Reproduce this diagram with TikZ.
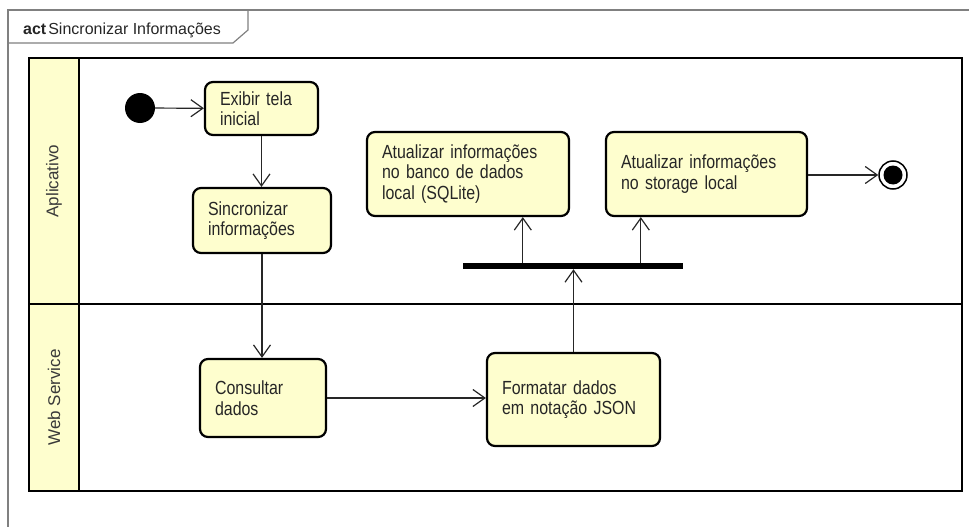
\documentclass[tikz,border=0pt]{standalone}
\usepackage{fontspec}
\setmainfont{Liberation Sans}
\newfontfamily\actionfont[FakeStretch=0.84]{Liberation Sans}
\usetikzlibrary{arrows.meta,calc}
\definecolor{actfill}{HTML}{FEFECE}
\definecolor{ink}{HTML}{262626}
\definecolor{lanetext}{HTML}{3A3A3A}
\definecolor{framegray}{HTML}{808080}

\begin{document}
\begin{tikzpicture}[x=1pt,y=-1pt,
  every node/.style={font=\fontsize{16}{21}\selectfont, text=ink},
  activity/.style={draw=black, line width=2.2pt, fill=actfill, rounded corners=8pt,
    inner xsep=15pt, inner ysep=0pt, align=left,
    font=\actionfont\fontsize{19}{20.5}\selectfont},
  flow/.style={draw=ink, line width=1.2pt,
    -{Straight Barb[length=12pt,width=17pt,line width=1.2pt]}},
  lane/.style={draw=black, line width=2pt},
  lanelabel/.style={rotate=90, text=lanetext, font=\fontsize{17}{20}\selectfont},
]
\useasboundingbox (0,0) rectangle (969,527);

% diagram frame with its name tab
\draw[framegray, line width=1.2pt] (8,527) -- (8,10) -- (969,10);
\draw[framegray, line width=1.2pt] (8,43) -- (233,43) -- (248,30) -- (248,10);
\node[anchor=base west, inner sep=0pt] (title) at (23,35)
  {\textbf{act}\hspace{2pt}Sincronizar Informações};

% swimlanes
\fill[actfill] (29,58) rectangle (79,491);
\draw[lane] (29,58) rectangle (962,491);
\draw[lane] (79,58) -- (79,491);
\draw[lane] (29,304) -- (962,304);
\node[lanelabel] (laneApp) at (54,181) {Aplicativo};
\node[lanelabel] (laneWeb) at (54,397.5) {Web Service};

% initial and final nodes
\node[circle, fill=black, minimum size=30pt, inner sep=0pt] (start) at (140,108) {};
\node[circle, draw=black, line width=1.5pt, fill=white, minimum size=28pt, inner sep=0pt] (end) at (893,175) {};
\node[circle, fill=black, minimum size=19pt, inner sep=0pt] (endDot) at (893,175) {};

% actions
\node[activity, minimum width=113pt, text width=83pt, minimum height=53pt] (exibir) at (261.5,108.5)
  {Exibir tela\\inicial};
\node[activity, minimum width=138pt, text width=108pt, minimum height=65pt] (sinc) at (262,220.5)
  {Sincronizar\\informações};
\node[activity, minimum width=126pt, text width=96pt, minimum height=78pt] (consult) at (263,398)
  {Consultar\\dados};
\node[activity, minimum width=173pt, text width=143pt, minimum height=93pt] (format) at (573.5,399.5)
  {Formatar dados\\em notação JSON};
\node[activity, minimum width=202pt, text width=172pt, minimum height=84pt] (atual1) at (468,174)
  {Atualizar informações\\no banco de dados\\local (SQLite)};
\node[activity, minimum width=201pt, text width=171pt, minimum height=84pt] (atual2) at (706.5,174)
  {Atualizar informações\\no storage local};

% fork bar
\node[fill=black, minimum width=220pt, minimum height=6pt, inner sep=0pt] (fork) at (573,266) {};
\coordinate (forkA) at ([xshift=60pt]fork.north west);
\coordinate (forkB) at ([xshift=178pt]fork.north west);

% control flows
\draw[flow] (start) -- (exibir);
\draw[flow] (exibir.south) -- (exibir.south |- sinc.north);
\draw[flow] (sinc.south) -- (sinc.south |- consult.north);
\draw[flow] (consult.east) -- (consult.east -| format.west);
\draw[flow] (format.north) -- (format.north |- fork.south);
\draw[flow] (forkA) -- (forkA |- atual1.south);
\draw[flow] (forkB) -- (forkB |- atual2.south);
\draw[flow] (atual2.east |- end) -- (end.west);
\end{tikzpicture}
\end{document}
